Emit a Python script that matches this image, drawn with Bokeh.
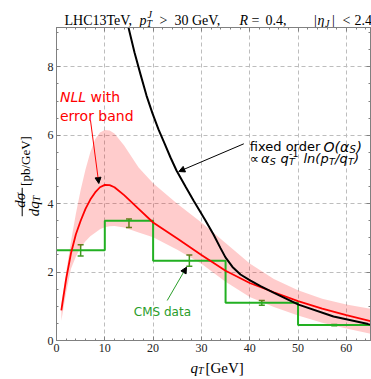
import math
from bokeh.plotting import figure
from bokeh.layouts import column, row
from bokeh.models import (Range1d, LinearAxis, FixedTicker, Label, Arrow, NormalHead,
                          Whisker, TeeHead, ColumnDataSource)
from bokeh.embed import file_html
from bokeh.resources import INLINE

# ---------------- data ----------------
nll_q = [1, 2, 3, 4, 5, 6, 7, 8, 9, 10, 11, 12, 14, 17, 20, 25, 30, 35, 40, 45, 50, 55, 60, 65]
nll_central = [0.88, 1.8, 2.55, 3.1, 3.5, 3.85, 4.12, 4.33, 4.48, 4.55, 4.54, 4.48, 4.25, 3.85,
               3.45, 2.98, 2.5, 2.04, 1.68, 1.41, 1.15, 0.93, 0.74, 0.57]
nll_upper = [1.08, 2.0, 2.9, 3.7, 4.4, 5.0, 5.5, 5.88, 6.08, 6.15, 6.14, 6.05, 5.7, 5.06,
             4.6, 4.0, 3.45, 2.85, 2.25, 1.8, 1.47, 1.22, 1.05, 0.93]
nll_lower = [0.58, 1.4, 2.1, 2.45, 2.72, 2.9, 3.05, 3.15, 3.25, 3.31, 3.34, 3.35, 3.3, 3.16,
             3.02, 2.65, 2.24, 1.72, 1.27, 0.98, 0.73, 0.52, 0.35, 0.2]

fo_q = [14.9, 16.15, 17.39, 18.63, 19.87, 21.11, 22.36, 23.6, 24.84, 26.7, 28.36, 30.84,
        32.5, 33.95, 34.98, 36.43, 38.08, 40.16, 42.23, 44.92, 50.1, 57.34, 65.0]
fo_val = [9.15, 8.42, 7.78, 7.16, 6.64, 6.17, 5.76, 5.35, 4.97, 4.5, 4.09, 3.51,
          3.1, 2.7, 2.43, 2.15, 1.93, 1.75, 1.59, 1.4, 1.05, 0.7, 0.47]

cms_edges = [0, 10, 20, 35, 50, 65]
cms_values = [2.64, 3.50, 2.33, 1.10, 0.45]
cms_lo = [2.47, 3.30, 2.17, 1.03, 0.43]
cms_hi = [2.80, 3.55, 2.50, 1.17, 0.47]

x_ticks = [0, 10, 20, 30, 40, 50, 60]
x_minor = list(range(0, 66, 2))
y_ticks = [0, 2, 4, 6, 8]
y_minor = [i * 0.5 for i in range(0, 19)]

X_END = 65.0
Y_END = 9.15

# ---------------- layout (page pixels) ----------------
W, H = 371, 379
TOP_H = 27          # title strip  (page y 0..27)
BOT_H = 22          # x-label strip (page y 357..379)
LEFT_W = 44         # y-label strip (page x 0..44)
MAIN_W = W - LEFT_W
MAIN_H = H - TOP_H - BOT_H
FL, FR, FT, FB = 56.0, 370.0, 27.0, 340.0   # plot frame in page pixels


def dx(px):
    return (px - FL) / (FR - FL) * X_END


def dy(py):
    return (FB - py) / (FB - FT) * Y_END


AX = "#808080"
SERIF = "Liberation Serif"
SANS = "DejaVu Sans"


def add_label(fig, x, y, text, size, font=SERIF, style="normal", color="black",
              angle=0.0, align="left"):
    fig.add_layout(Label(x=x, y=y, text=text, text_font=font,
                         text_font_size=f"{size}px", text_font_style=style, text_color=color,
                         angle=angle, text_align=align, text_baseline="alphabetic"))


def blank(w, h):
    f = figure(width=w, height=h, x_range=Range1d(0, w), y_range=Range1d(0, h),
               output_backend="svg", toolbar_location=None, min_border=0,
               x_axis_type=None, y_axis_type=None)
    f.outline_line_color = None
    f.background_fill_color = "white"
    f.border_fill_color = "white"
    return f


def strip_label(fig, ox, oy, px, py, text, size, **kw):
    # page pixel (px, py) -> strip data coordinates (strip origin at page ox, oy)
    add_label(fig, px - ox, fig.height - (py - oy), text, size, **kw)


# ---------------- main plot ----------------
p = figure(width=MAIN_W, height=MAIN_H, x_range=Range1d(0, X_END), y_range=Range1d(0, Y_END),
           output_backend="svg", toolbar_location=None,
           min_border_left=int(FL - LEFT_W), min_border_right=int(W - FR),
           min_border_top=int(FT - TOP_H), min_border_bottom=int(TOP_H + MAIN_H - FB))
p.background_fill_color = "white"
p.border_fill_color = "white"
p.outline_line_color = AX

for ax, tk, mn in ((p.xaxis[0], x_ticks, x_minor), (p.yaxis[0], y_ticks, y_minor)):
    ax.ticker = FixedTicker(ticks=tk, minor_ticks=mn)
    ax.axis_line_color = AX
    ax.major_tick_line_color = AX
    ax.minor_tick_line_color = AX
    ax.major_tick_in = 4
    ax.major_tick_out = 0
    ax.minor_tick_in = 2
    ax.minor_tick_out = 0
    ax.major_label_text_font = SERIF
    ax.major_label_text_font_size = "12px"
    ax.major_label_text_color = "#222222"
p.xaxis.major_label_standoff = 3
p.yaxis.major_label_standoff = 3

# inward ticks on the top and right edges (no labels)
for loc, tk, mn in (("above", x_ticks, x_minor), ("right", y_ticks, y_minor)):
    for ticks, length in ((mn, 2), (tk, 4)):
        a = LinearAxis(ticker=FixedTicker(ticks=[], minor_ticks=ticks),
                       major_label_standoff=0, major_tick_in=0, major_tick_out=0,
                       minor_tick_in=length, minor_tick_out=0,
                       axis_line_color=AX, minor_tick_line_color=AX)
        p.add_layout(a, loc)

p.xgrid.ticker = FixedTicker(ticks=x_ticks[1:])
p.ygrid.ticker = FixedTicker(ticks=y_ticks[1:])
for g in (p.xgrid[0], p.ygrid[0]):
    g.grid_line_color = "#bdbdbd"
    g.grid_line_dash = "4 3"
    g.grid_line_width = 1

p.varea(x=nll_q, y1=nll_lower, y2=nll_upper, fill_color="#ff0000", fill_alpha=0.2)
p.step(x=cms_edges, y=cms_values + [cms_values[-1]], mode="after",
       line_color="#22b022", line_width=2)
p.line(nll_q, nll_central, line_color="#ff0000", line_width=1.8)
p.line(fo_q, fo_val, line_color="black", line_width=2)

centers = [(a + b) / 2 for a, b in zip(cms_edges[:-1], cms_edges[1:])]
src = ColumnDataSource(dict(x=centers, lo=cms_lo, hi=cms_hi))
EB = "#3f9a22"
p.add_layout(Whisker(base="x", lower="lo", upper="hi", source=src, line_color=EB, line_width=1.5,
                     upper_head=TeeHead(size=6, line_color=EB, line_width=1.5),
                     lower_head=TeeHead(size=6, line_color=EB, line_width=1.5)))


def lab(px, py, text, size, **kw):
    add_label(p, dx(px), dy(py), text, size, **kw)


RED = "#ff0000"
lab(59.5, 96.5, "NLL", 14, font=SANS, style="italic", color=RED)
lab(90, 96.5, "with", 14, font=SANS, color=RED)
lab(59.5, 115.5, "error band", 14, font=SANS, color=RED)

# "fixed order O(alpha_S)"
L1 = 146
lab(249.3, L1, "fixed order", 13, font=SANS)
lab(323, L1, "O(α", 14, font=SANS, style="italic")
lab(349, L1 + 3, "S", 10, font=SANS, style="italic")
lab(356, L1, ")", 14, font=SANS, style="italic")

# "∝ alpha_S q_T^-1 ln(p_T/q_T)"
L2 = 158
lab(249.3, L2, "∝", 13, font=SANS)
lab(260.5, L2, "α", 13, font=SANS, style="italic")
lab(269.3, L2 + 3, "S", 9.5, font=SANS, style="italic")
lab(280, L2, "q", 13, font=SANS, style="italic")
lab(288.5, L2 + 3, "T", 9.5, font=SANS, style="italic")
lab(288.5, L2 - 5, "-1", 9.5, font=SANS)
lab(303, L2, "ln(p", 13, font=SANS, style="italic")
lab(328.5, L2 + 3, "T", 9.5, font=SANS, style="italic")
lab(334.5, L2, "/q", 13, font=SANS, style="italic")
lab(347.5, L2 + 3, "T", 9.5, font=SANS, style="italic")
lab(353.5, L2, ")", 13, font=SANS, style="italic")

GREEN_T = "#2a9d2a"
lab(133.3, 311.5, "CMS data", 12, font=SANS, color=GREEN_T)

head = dict(size=6, fill_color="black", line_color="black")
p.add_layout(Arrow(end=NormalHead(**head), x_start=dx(90), y_start=dy(120),
                   x_end=dx(98.3), y_end=dy(183), line_color=RED, line_width=1))
p.add_layout(Arrow(end=NormalHead(**head), x_start=dx(243.3), y_start=dy(143.3),
                   x_end=dx(178.3), y_end=dy(171), line_color="black", line_width=1))
p.add_layout(Arrow(end=NormalHead(**head), x_start=dx(166.7), y_start=dy(300),
                   x_end=dx(186), y_end=dy(266.7), line_color=GREEN_T, line_width=1))

# ---------------- title strip ----------------
t = blank(W, TOP_H)


def tl(px, py, text, size, **kw):
    strip_label(t, 0, 0, px, py, text, size, **kw)


TB = 19.5
tl(64, TB, "LHC13TeV,", 14)
tl(139, TB, "p", 14, style="italic")
tl(146, TB + 3, "T", 10, style="italic")
tl(147, TB - 6, "J", 10, style="italic")
tl(159, TB, ">", 14)
tl(174, TB, "30 GeV,", 14)
tl(239, TB, "R", 14, style="italic")
tl(251, TB, "=", 14)
tl(265, TB, "0.4,", 14)
tl(313.5, TB, "|", 14)
tl(317, TB, "η", 14, style="italic")
tl(324.5, TB + 3, "J", 10, style="italic")
tl(331.5, TB, "|", 14)
tl(342, TB, "<", 14)
tl(354, TB, "2.4", 14)

# ---------------- y-label strip (rotated text) ----------------
yl = blank(LEFT_W, MAIN_H)
R = math.pi / 2


def yll(px, py, text, size, **kw):
    strip_label(yl, 0, TOP_H, px, py, text, size, angle=R, **kw)


yll(19, 217, "dσ", 15, style="italic")
yl.add_layout(Arrow(x_start=21.7, y_start=MAIN_H - (196 - TOP_H), x_end=21.7,
                    y_end=MAIN_H - (226 - TOP_H), start=None, end=None,
                    line_color="black", line_width=1))
yll(33, 226, "dq", 15, style="italic")
yll(36, 210.5, "T", 10, style="italic")
yll(24.5, 194, "[pb/GeV]", 13)

# ---------------- x-label strip ----------------
xl = blank(W, BOT_H)
OB = TOP_H + MAIN_H


def xll(px, py, text, size, **kw):
    strip_label(xl, 0, OB, px, py, text, size, **kw)


xll(190, 367, "q", 15, style="italic")
xll(197.5, 370, "T", 10, style="italic")
xll(205, 367, "[GeV]", 15)

layout = column(t, row(yl, p, spacing=0), xl, spacing=0)
open("out.html", "w").write(file_html(layout, INLINE))
